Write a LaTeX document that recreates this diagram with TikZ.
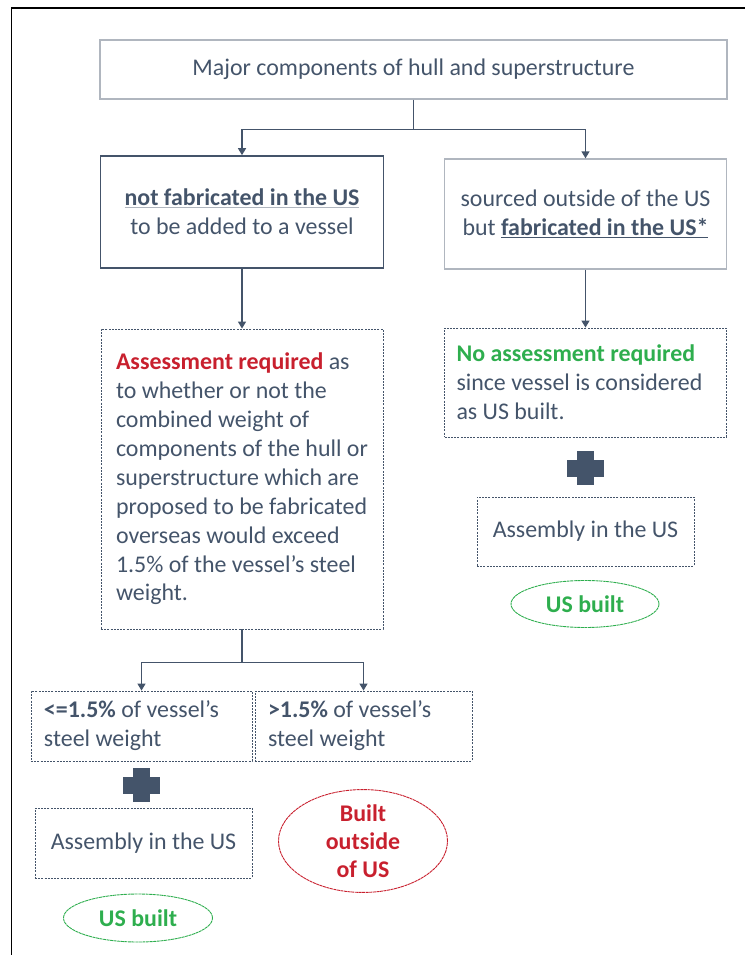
\documentclass[tikz,border=0pt]{standalone}
\usepackage{fontspec}
\setmainfont{Carlito}
\usetikzlibrary{arrows.meta,shapes.geometric}
\definecolor{slate}{HTML}{44546A}
\definecolor{pale}{HTML}{B0B6BF}
\definecolor{alarm}{HTML}{C8202E}
\definecolor{okay}{HTML}{2EAE4E}
\newcommand{\ulpale}[1]{{\color{pale}\underline{\color{slate}#1}}}
\begin{document}
\begin{tikzpicture}[x=1bp,y=-1bp,
  every node/.style={text=slate,font=\fontsize{24}{29}\selectfont},
  box/.style={rectangle,inner sep=0pt},
  plainbox/.style={draw=pale,line width=1.3bp},
  darkbox/.style={draw=slate,line width=1.6bp},
  dotbox/.style={draw=slate,line width=0.9bp,dash pattern=on 2bp off 1.2bp},
  verdict/.style={ellipse,inner sep=0pt,line width=0.9bp,dash pattern=on 3bp off 0.6bp,font=\bfseries\fontsize{24}{28}\selectfont},
  link/.style={slate,line width=1.3bp},
  arrow/.style={link,-{Triangle[width=8bp,length=7bp]}}]
  \useasboundingbox (0,0) rectangle (745,955);
  \draw[line width=1.2bp] (11.5,955) |- (745,8);
  \node[box,plainbox,minimum width=627bp,minimum height=59bp] (top) at (413.5,69.5) {Major components of hull and superstructure};
  \node[box,darkbox,minimum width=283bp,minimum height=112bp,align=center] (nofab) at (242,212) {\ulpale{\textbf{not fabricated in the US}}\\to be added to a vessel};
  \node[box,plainbox,minimum width=282bp,minimum height=110bp,align=center] (fab) at (585.5,214) {sourced outside of the US\\but \underline{\textbf{fabricated in the US*}}};
  \node[box,dotbox,minimum width=282bp,minimum height=300bp,align=left] (assess) at (242,479) {\textcolor{alarm}{\textbf{Assessment required}} as\\to whether or not the\\combined weight of\\components of the hull or\\superstructure which are\\proposed to be fabricated\\overseas would exceed\\1.5\% of the vessel's steel\\weight.};
  \node[box,dotbox,text width=258bp,inner xsep=12bp,minimum height=109bp,align=flush left] (noneed) at (585.5,382.5) {\textcolor{okay}{\textbf{No assessment required}}\\since vessel is considered\\as US built.};
  \node[box,dotbox,minimum width=217bp,minimum height=69bp] (asmR) at (585.5,531.5) {Assembly in the US};
  \node[verdict,draw=okay,text=okay,minimum width=148bp,minimum height=47bp] (usR) at (585,604) {US built};
  \node[box,dotbox,text width=195bp,inner xsep=13bp,minimum height=70bp,align=flush left] (low) at (141.5,726) {\textbf{<=1.5\%} of vessel’s\\steel weight};
  \node[box,dotbox,text width=191bp,inner xsep=13bp,minimum height=70bp,align=flush left] (high) at (363.5,726) {\textbf{>1.5\%} of vessel’s\\steel weight};
  \node[box,dotbox,minimum width=217bp,minimum height=70bp] (asmL) at (143.5,843) {Assembly in the US};
  \node[verdict,draw=okay,text=okay,minimum width=149bp,minimum height=48bp] (usL) at (138,918) {US built};
  \node[verdict,draw=alarm,text=alarm,minimum width=169bp,minimum height=98bp,align=center] (abroad) at (363,841) {Built\\outside\\of US};
  \coordinate (split) at ([yshift=-30bp]top.south);
  \coordinate (fork) at ([yshift=-33bp]assess.south);
  \draw[link] (top.south) -- (split);
  \draw[arrow] (split) -| (nofab.north);
  \draw[arrow] (split) -| (fab.north);
  \draw[arrow] (nofab) -- (assess);
  \draw[arrow] (fab) -- (noneed);
  \draw[link] (assess) -- (fork);
  \draw[arrow] (fork) -| (low.north);
  \draw[arrow] (fork) -| (high.north);
  % plus signs between the outcome and the assembly
  \foreach \p in {(585,468),(141,785)} {
    \fill[slate] \p ++(-18.5,-8.5) rectangle ++(37,17);
    \fill[slate] \p ++(-8.5,-17) rectangle ++(17,34);
  }
\end{tikzpicture}
\end{document}
